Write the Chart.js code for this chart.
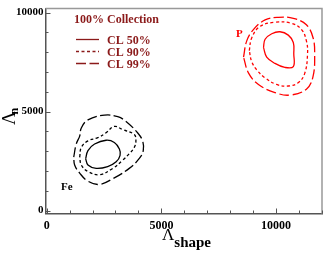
<!DOCTYPE html>
<html>
<head>
<meta charset="utf-8">
<script src="https://cdn.jsdelivr.net/npm/chart.js@4.4.1/dist/chart.umd.min.js"></script>
<style>
    html, body { margin: 0; padding: 0; background: #fff; }
</style>
</head>
<body>
<canvas id="chart" width="327" height="253"></canvas>
<script>
// contour points (closed curves, first point repeated)
const feX50 = [1700, 1800, 2090, 2590, 2950, 3170, 3200, 3030, 2660, 2160, 1800, 1700];
const feY50 = [2620, 3030, 3360, 3550, 3440, 3110, 2790, 2460, 2220, 2130, 2300, 2620];
const feX90 = [1440, 1510, 1800, 2230, 2590, 2950, 3310, 3820, 3890, 3820, 3600, 3310, 2880, 2300, 1800, 1510, 1440];
const feY90 = [2700, 3190, 3520, 3680, 3930, 4250, 4090, 3840, 3520, 3190, 2870, 2540, 2130, 1810, 1970, 2300, 2700];
const feX99 = [1180, 1290, 1440, 1510, 1800, 2520, 3100, 3460, 3960, 4180, 4210, 4030, 3600, 2950, 2300, 1800, 1440, 1220, 1180];
const feY99 = [2700, 3360, 3760, 4170, 4580, 4820, 4740, 4500, 3930, 3520, 3030, 2620, 2130, 1650, 1320, 1480, 1890, 2300, 2700];

const pX50 = [9450, 9520, 9810, 10170, 10530, 10750, 10770, 10750, 10380, 9950, 9590, 9450];
const pY50 = [8240, 8650, 8930, 9030, 8860, 8490, 7920, 7270, 7230, 7430, 7750, 8240];
const pX90 = [8830, 8940, 9300, 9950, 10670, 11110, 11320, 11370, 11250, 10960, 10530, 10020, 9520, 9160, 8940, 8830];
const pY90 = [8080, 8730, 9300, 9510, 9460, 9140, 8570, 7920, 6940, 6450, 6290, 6370, 6700, 7100, 7510, 8080];
const pX99 = [8580, 8720, 9010, 9520, 10100, 10750, 11320, 11610, 11680, 11610, 11320, 10600, 9950, 9230, 8800, 8580];
const pY99 = [7750, 8570, 9140, 9630, 9760, 9710, 9380, 8730, 7920, 6780, 6130, 5830, 5960, 6370, 6940, 7750];

const xTicks = [0, 1000, 2000, 3000, 4000, 5000, 6000, 7000, 8000, 9000, 10000, 11000, 12000];
const yTicks = [0, 1000, 2000, 3000, 4000, 5000, 6000, 7000, 8000, 9000, 10000];
const majorTicks = [0, 5000, 10000];

const legendLabels = ['CL 50%', 'CL 90%', 'CL 99%'];
const dashes = [[], [3, 2.5], [10, 3.5]];

const legendRed = 'rgb(139, 26, 26)';
const serif = '"Liberation Serif", "DejaVu Serif", serif';

function curve(xs, ys, color, dash) {
    return {
        data: xs.map((x, i) => ({ x, y: ys[i] })),
        showLine: true,
        borderColor: color,
        borderWidth: 1.3,
        borderDash: dash,
        pointRadius: 0,
        tension: 0.4,
        fill: false,
    };
}

const frame = {
    id: 'frame',
    afterDraw(chart) {
        const { ctx, chartArea: a, scales: { x, y } } = chart;
        ctx.save();
        // top/right border
        ctx.strokeStyle = '#999';
        ctx.lineWidth = 1.5;
        ctx.beginPath();
        ctx.moveTo(a.left, a.top);
        ctx.lineTo(a.right, a.top);
        ctx.lineTo(a.right, a.bottom);
        ctx.stroke();
        // inward ticks
        ctx.strokeStyle = '#555';
        ctx.lineWidth = 1;
        ctx.beginPath();
        xTicks.forEach((v) => {
            const px = Math.round(x.getPixelForValue(v)) + 0.5;
            const len = majorTicks.includes(v) ? 5 : 3;
            ctx.moveTo(px, a.bottom);
            ctx.lineTo(px, a.bottom - len);
        });
        yTicks.forEach((v) => {
            const py = Math.round(y.getPixelForValue(v)) + 0.5;
            const len = majorTicks.includes(v) ? 5 : 3;
            ctx.moveTo(a.left, py);
            ctx.lineTo(a.left + len, py);
        });
        ctx.stroke();

        // axis titles
        ctx.fillStyle = '#000';
        ctx.textBaseline = 'alphabetic';
        ctx.textAlign = 'left';
        ctx.font = '17px ' + serif;
        const wL = ctx.measureText('Λ').width;
        ctx.fillText('Λ', 162, 240);
        ctx.font = 'bold 15px ' + serif;
        ctx.fillText('shape', 162 + wL, 247);

        ctx.save();
        ctx.translate(15, 117);
        ctx.rotate(-Math.PI / 2);
        ctx.font = '19px ' + serif;
        ctx.fillText('Λ', -8, 0);
        ctx.font = 'bold 12px ' + serif;
        ctx.fillText('n', -8 + ctx.measureText('Λ').width + 2, 3);
        ctx.restore();

        // legend
        ctx.fillStyle = legendRed;
        ctx.strokeStyle = legendRed;
        ctx.font = 'bold 12px ' + serif;
        ctx.fillText('100% Collection', 74, 23);
        legendLabels.forEach((label, i) => {
            const ly = 39.5 + i * 12;
            ctx.setLineDash(dashes[i]);
            ctx.lineWidth = 1.3;
            ctx.beginPath();
            ctx.moveTo(76, ly);
            ctx.lineTo(99, ly);
            ctx.stroke();
            ctx.fillText(label, 107, ly + 4);
        });
        ctx.setLineDash([]);

        // species labels
        ctx.font = 'bold 11px ' + serif;
        ctx.fillStyle = '#000';
        ctx.fillText('Fe', 61, 190);
        ctx.fillStyle = '#f00';
        ctx.fillText('P', 236, 37);
        ctx.restore();
    },
};

new Chart(document.getElementById('chart'), {
    type: 'scatter',
    data: {
        datasets: [
            curve(feX50, feY50, '#000', dashes[0]),
            curve(feX90, feY90, '#000', dashes[1]),
            curve(feX99, feY99, '#000', dashes[2]),
            curve(pX50, pY50, '#f00', dashes[0]),
            curve(pX90, pY90, '#f00', dashes[1]),
            curve(pX99, pY99, '#f00', dashes[2]),
        ],
    },
    options: {
        responsive: false,
        animation: false,
        layout: { padding: { top: 3, right: 4, left: 0, bottom: 0 } },
        plugins: { legend: { display: false }, tooltip: { enabled: false } },
        scales: {
            x: {
                min: -50,
                max: 12000,
                afterBuildTicks: (s) => { s.ticks = xTicks.map((value) => ({ value })); },
                afterFit: (s) => { s.height = 39.5; },
                grid: { display: false, drawTicks: false },
                border: { color: '#555', width: 1.5 },
                ticks: {
                    padding: 5,
                    color: '#000',
                    maxRotation: 0,
                    autoSkip: false,
                    font: { family: serif, size: 12, weight: 'bold' },
                    callback: (v) => (majorTicks.includes(v) ? String(v) : ''),
                },
            },
            y: {
                min: -150,
                max: 10200,
                afterBuildTicks: (s) => { s.ticks = yTicks.map((value) => ({ value })); },
                afterFit: (s) => { s.width = 45.5; },
                grid: { display: false, drawTicks: false },
                border: { color: '#555', width: 1.5 },
                ticks: {
                    padding: 2,
                    color: '#000',
                    autoSkip: false,
                    font: { family: serif, size: 11, weight: 'bold' },
                    callback: (v) => (majorTicks.includes(v) ? String(v) : ''),
                },
            },
        },
    },
    plugins: [frame],
});
</script>
</body>
</html>
